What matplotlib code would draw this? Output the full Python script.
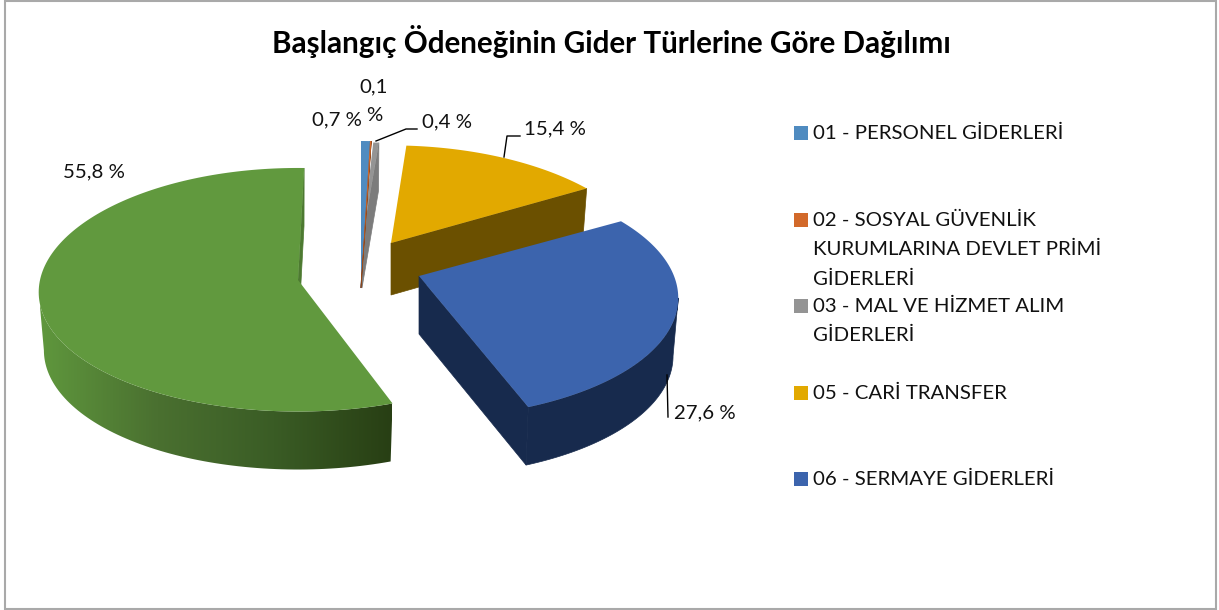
import numpy as np
import matplotlib
matplotlib.use("Agg")
import matplotlib.pyplot as plt
from matplotlib.patches import Polygon, Rectangle
from matplotlib.colors import LinearSegmentedColormap

plt.rcParams["font.family"] = ["Lato", "DejaVu Sans"]

title = "Başlangıç Ödeneğinin Gider Türlerine Göre Dağılımı"
shares = [0.7, 0.1, 0.4, 15.4, 27.6, 55.8]
value_labels = ["0,7 %", "0,1\n%", "0,4 %", "15,4 %", "27,6 %", "55,8 %"]
legend_labels = [
    "01 - PERSONEL GİDERLERİ",
    "02 - SOSYAL GÜVENLİK\nKURUMLARINA DEVLET PRİMİ\nGİDERLERİ",
    "03 - MAL VE HİZMET ALIM\nGİDERLERİ",
    "05 - CARİ TRANSFER",
    "06 - SERMAYE GİDERLERİ",
]

top_colors = ["#4f8bc0", "#d2692a", "#949494", "#e2a900", "#3c64ad", "#61993e"]
side_colors = ["#2f5f8c", "#8f4518", "#7c7c7c", "#6b5000", "#172a4d", "#4d7a31"]

# slice layout in pixels: apex x, apex y, rx, ry, px, py, thickness, rotation
layout = [
    (361, 285, 256, 180, 0.25, 0.25, 3, 0),
    (361, 285, 256, 180, 0.25, 0.25, 3, 0),
    (362, 240, 280, 122, 0.25, 0.25, 48, 0),
    (391, 243, 255, 122, 0.25, 0.25, 52, 0),
    (419, 276, 255, 118, 0.18, 0.17, 58, 0),
    (298, 280, 258, 121, 0.10, 0.08, 58, 1.5),
]
draw_order = [2, 0, 1, 3, 4, 5]

fig = plt.figure(figsize=(12.19, 6.10), dpi=100)
ax = fig.add_axes([0, 0, 1, 1])
ax.set_xlim(0, 1219)
ax.set_ylim(610, 0)
ax.axis("off")

ax.add_patch(Rectangle((5, 0.5), 1211, 608.5, fc="white", ec="#a9a9a9", lw=1.5, zorder=0))


def rim(angles, geom, lower=False):
    x0, y0, rx, ry, px, py, th, rot = geom
    t = np.radians(angles + rot)
    sx = 1 / (1 + px * np.cos(t))
    sy = 1 / (1 + py * np.cos(t))
    if lower:
        return x0 + 0.98 * rx * np.sin(t) * sx, y0 + th - ry * np.cos(t) * sy
    return x0 + rx * np.sin(t) * sx, y0 - ry * np.cos(t) * sy


edges = np.cumsum([0] + shares) / sum(shares) * 360
green_cmap = LinearSegmentedColormap.from_list("g", ["#5f973d", "#4a7030", "#3a5c25", "#283f14"])

for n, i in enumerate(draw_order):
    geom = layout[i]
    a = np.linspace(edges[i], edges[i + 1], 160)
    z = 2 + n
    x0, y0, th = geom[0], geom[1], geom[6]
    tx, ty = rim(a, geom)
    bx, by = rim(a, geom, lower=True)
    # closing radial wall, the opening one always sits behind the top face
    ax.add_patch(Polygon([(x0, y0), (tx[-1], ty[-1]), (bx[-1], by[-1]), (x0, y0 + th)],
                         fc=side_colors[i], ec=side_colors[i], lw=0.5, zorder=z))
    # outer wall, only the part facing the viewer
    if i == 4:
        j = np.argmax(tx)
        wall = np.r_[np.c_[tx[j:], ty[j:]], np.c_[bx[j:], by[j:]][::-1]]
        ax.add_patch(Polygon(wall, fc=side_colors[i], ec=side_colors[i], lw=0.5, zorder=z))
    if i == 5:
        j = np.argmin(tx) + 1
        wall = np.r_[np.c_[tx[:j], ty[:j]], np.c_[bx[:j], by[:j]][::-1]]
        clip = Polygon(wall, fc="none", ec="none", transform=ax.transData)
        ax.add_patch(clip)
        im = ax.imshow(np.linspace(0, 1, 256)[None, :], cmap=green_cmap, aspect="auto",
                       extent=(40, 392, 480, 160), zorder=z + 0.2)
        im.set_clip_path(clip)
        ax.set_xlim(0, 1219)
        ax.set_ylim(610, 0)
    # top face
    ax.add_patch(Polygon(np.r_[[(x0, y0)], np.c_[tx, ty]], fc=top_colors[i], ec="none", zorder=z + 0.5))

# leader lines
ax.plot([376, 406, 417], [141, 129, 129], color="black", lw=1, zorder=10)
ax.plot([504, 507, 520], [157, 136, 136], color="black", lw=1, zorder=10)
ax.plot([667, 668], [375, 417], color="black", lw=1, zorder=10)

ax.text(611, 41, title, ha="center", va="center", fontsize=21.3, fontweight="bold", color="black")

label_pos = [(337, 120), (374, 101), (447, 122), (555, 129), (705, 413), (94, 172)]
for (lx, ly), txt in zip(label_pos, value_labels):
    ax.text(lx, ly, txt, ha="center", va="center", fontsize=14.7, color="#111111", linespacing=1.87, zorder=11)

legend_y = [133, 220, 306, 393, 479]
for y, txt, col in zip(legend_y, legend_labels, top_colors):
    ax.add_patch(Rectangle((794, y - 7), 14, 14, fc=col, ec="none"))
    ax.text(813, y - 8.5, txt, ha="left", va="top", fontsize=14.7, color="#111111", linespacing=1.87)

fig.savefig("out.png", dpi=100)
